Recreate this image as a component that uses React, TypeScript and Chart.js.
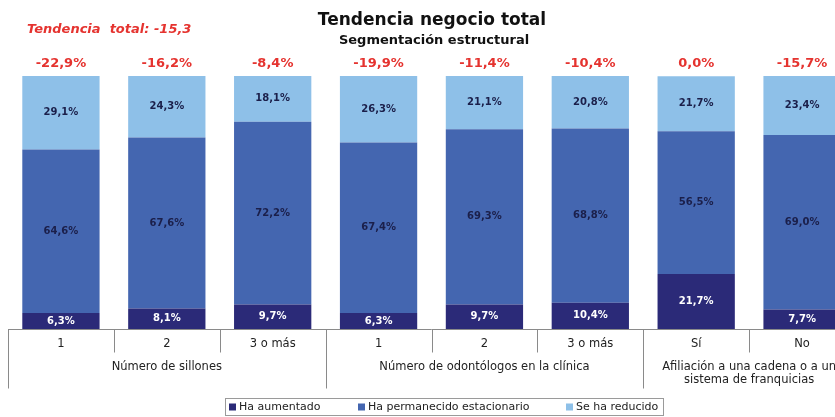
import React, { useEffect, useRef } from "react";
import { Chart, registerables } from "chart.js";

Chart.register(...registerables);

const categories = ["1", "2", "3 o más", "1", "2", "3 o más", "Sí", "No"];
const groups = [
  { label: ["Número de sillones"], from: 0, to: 2 },
  { label: ["Número de odontólogos en la clínica"], from: 3, to: 5 },
  { label: ["Afiliación a una cadena o a un", "sistema de franquicias"], from: 6, to: 7 },
];
const haAumentado = [6.3, 8.1, 9.7, 6.3, 9.7, 10.4, 21.7, 7.7];
const haPermanecido = [64.6, 67.6, 72.2, 67.4, 69.3, 68.8, 56.5, 69.0];
const seHaReducido = [29.1, 24.3, 18.1, 26.3, 21.1, 20.8, 21.7, 23.4];
const tendencias = ["-22,9%", "-16,2%", "-8,4%", "-19,9%", "-11,4%", "-10,4%", "0,0%", "-15,7%"];
const seriesNames = ["Ha aumentado", "Ha permanecido estacionario", "Se ha reducido"];
const colors = ["#2b2a78", "#4466b0", "#8ec0e8"];
const title = "Tendencia negocio total";
const subtitle = "Segmentación estructural";
const tendenciaTotal = "Tendencia  total: -15,3";

const fmt = (v: number) => v.toFixed(1).replace(".", ",") + "%";

const FONT = "'DejaVu Sans', 'Liberation Sans', Arial, sans-serif";
const RED = "#e5332f";

const overlay = {
  id: "overlay",
  afterDatasetsDraw(chart: any) {
    const ctx = chart.ctx as CanvasRenderingContext2D;
    const xs = chart.scales.x;
    const area = chart.chartArea;
    ctx.save();
    // segment labels
    chart.data.datasets.forEach((ds: any, di: number) => {
      const meta = chart.getDatasetMeta(di);
      meta.data.forEach((bar: any, i: number) => {
        const top = Math.min(bar.y, bar.base);
        const bot = Math.max(bar.y, bar.base);
        ctx.font = `bold 10px ${FONT}`;
        ctx.fillStyle = di === 0 ? "#ffffff" : "#1b1f4a";
        ctx.textAlign = "center";
        ctx.textBaseline = "middle";
        ctx.fillText(fmt(ds.data[i]), bar.x, (top + bot) / 2);
      });
    });
    // red totals
    ctx.font = `bold 13px ${FONT}`;
    ctx.fillStyle = RED;
    ctx.textAlign = "center";
    ctx.textBaseline = "middle";
    tendencias.forEach((t, i) => {
      ctx.fillText(t, xs.getPixelForValue(i), 64);
    });
    // axis
    const step = xs.getPixelForValue(1) - xs.getPixelForValue(0);
    const edge = (i: number) => xs.getPixelForValue(0) - step / 2 + i * step;
    const by = area.bottom + 0.5;
    ctx.strokeStyle = "#8a8a8a";
    ctx.lineWidth = 1;
    ctx.beginPath();
    ctx.moveTo(edge(0), by);
    ctx.lineTo(edge(categories.length), by);
    ctx.stroke();
    for (let i = 0; i < categories.length; i++) {
      const isGroup = groups.some((g) => g.from === i);
      const x = Math.round(edge(i)) + 0.5;
      ctx.beginPath();
      ctx.moveTo(x, by);
      ctx.lineTo(x, by + (isGroup ? 59 : 23));
      ctx.stroke();
    }
    ctx.fillStyle = "#222222";
    ctx.font = `11.5px ${FONT}`;
    categories.forEach((c, i) => {
      ctx.fillText(c, xs.getPixelForValue(i), by + 15);
    });
    groups.forEach((g) => {
      const cx = (edge(g.from) + edge(g.to + 1)) / 2;
      g.label.forEach((l, li) => {
        ctx.fillText(l, cx, by + 38 + li * 13);
      });
    });
    // titles
    ctx.fillStyle = "#111111";
    ctx.font = `bold 17px ${FONT}`;
    ctx.fillText(title, 432, 21);
    ctx.font = `bold 13px ${FONT}`;
    ctx.fillText(subtitle, 434, 41);
    ctx.fillStyle = RED;
    ctx.font = `italic bold 13px ${FONT}`;
    ctx.textAlign = "left";
    ctx.fillText(tendenciaTotal, 27, 30);
    // legend
    const lx = 225.5, ly = 398.5, lw = 438, lh = 17;
    ctx.strokeStyle = "#9a9a9a";
    ctx.strokeRect(lx, ly, lw, lh);
    const items = [228, 357, 565];
    ctx.font = `11px ${FONT}`;
    items.forEach((x, k) => {
      ctx.fillStyle = colors[k];
      ctx.fillRect(x + 1, ly + 5, 7, 7);
      ctx.fillStyle = "#222222";
      ctx.fillText(seriesNames[k], x + 11, ly + lh / 2 + 0.5);
    });
    ctx.restore();
  },
};

export default function App() {
  const ref = useRef<HTMLCanvasElement | null>(null);
  useEffect(() => {
    if (!ref.current) return;
    const chart = new Chart(ref.current, {
      type: "bar",
      data: {
        labels: categories,
        datasets: [
          { label: seriesNames[0], data: haAumentado, backgroundColor: colors[0] },
          { label: seriesNames[1], data: haPermanecido, backgroundColor: colors[1] },
          { label: seriesNames[2], data: seHaReducido, backgroundColor: colors[2] },
        ],
      },
      options: {
        animation: false,
        responsive: false,
        layout: { padding: { top: 76, bottom: 88, left: 8, right: 0 } },
        plugins: { legend: { display: false }, tooltip: { enabled: false }, title: { display: false } },
        datasets: { bar: { categoryPercentage: 1, barPercentage: 0.73 } } as any,
        scales: {
          x: { stacked: true, display: false },
          y: { stacked: true, display: false, min: 0, max: 100 },
        },
      },
      plugins: [overlay],
    });
    return () => chart.destroy();
  }, []);
  return (
    <div style={{ position: "fixed", left: 0, top: 0, width: 835, height: 417, overflow: "hidden", background: "#fff" }}>
      <canvas ref={ref} width={855} height={417} style={{ width: 855, height: 417, display: "block" }} />
    </div>
  );
}
